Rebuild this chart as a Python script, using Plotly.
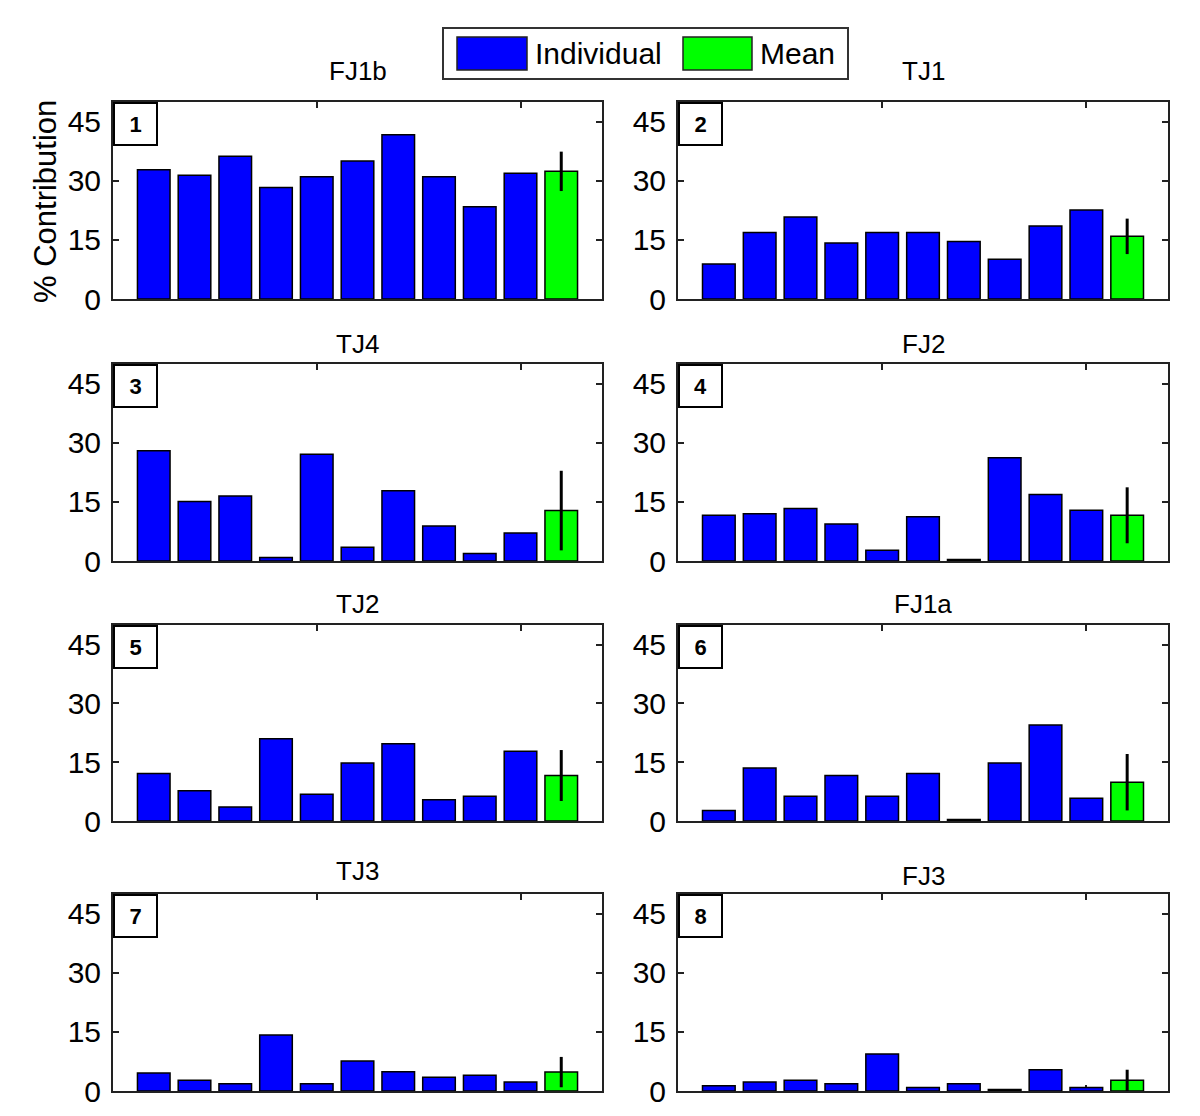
import plotly.graph_objects as go

# ---------------- data ----------------
panel_titles = ["FJ1b", "TJ1", "TJ4", "FJ2", "TJ2", "FJ1a", "TJ3", "FJ3"]
panel_numbers = ["1", "2", "3", "4", "5", "6", "7", "8"]

fj1b_ind = [32.8, 31.4, 36.2, 28.3, 31.0, 35.0, 41.7, 31.0, 23.4, 31.9]
tj1_ind = [8.9, 16.9, 20.8, 14.2, 16.9, 16.9, 14.6, 10.1, 18.5, 22.6]
tj4_ind = [28.0, 15.1, 16.5, 0.9, 27.1, 3.5, 17.8, 8.9, 1.9, 7.1]
fj2_ind = [11.6, 12.0, 13.3, 9.4, 2.7, 11.2, 0.4, 26.2, 16.9, 12.9]
tj2_ind = [12.1, 7.7, 3.6, 21.0, 6.8, 14.8, 19.7, 5.4, 6.3, 17.8]
fj1a_ind = [2.7, 13.5, 6.3, 11.6, 6.3, 12.1, 0.4, 14.8, 24.5, 5.8]
tj3_ind = [4.55, 2.7, 1.85, 14.2, 1.85, 7.6, 4.9, 3.5, 4.0, 2.3]
fj3_ind = [1.35, 2.3, 2.7, 1.85, 9.4, 0.9, 1.85, 0.4, 5.4, 0.9]

mean_values = [32.4, 15.9, 12.8, 11.6, 11.6, 9.9, 4.8, 2.7]
mean_errors = [5.0, 4.5, 10.1, 7.1, 6.5, 7.2, 3.85, 2.7]

subject_ids = [1, 2, 3, 4, 5, 6, 7, 8, 9, 10]
mean_id = [11]

y_ticks = [0, 15, 30, 45]
legend_labels = ["Individual", "Mean"]
y_title = "% Contribution"

individual = [fj1b_ind, tj1_ind, tj4_ind, fj2_ind, tj2_ind, fj1a_ind, tj3_ind, fj3_ind]

# ---------------- layout geometry ----------------
W = 1200
H_REF = 1116          # layout positions below are in reference pixels
H = 1133              # page height used for the figure (viewport compensation)
SY = H / H_REF
col_px = [(113, 602), (678, 1168)]
row_px = [(102, 299), (364, 561), (625, 821), (894, 1091)]
title_shift = [14, 14, 3, 3, 4, 4, 6, 1]

BLUE = "#0000FF"
GREEN = "#00FF00"
FONT = "Liberation Sans, Arial, sans-serif"

fig = go.Figure()
layout = dict(
    width=W, height=H, autosize=False,
    margin=dict(l=0, r=0, t=0, b=0),
    paper_bgcolor="white", plot_bgcolor="white",
    showlegend=False,
    bargap=0.2,
    font=dict(family=FONT, color="black"),
)
annotations = []
shapes = []


def px(xp):
    return xp / W


def py(yp):
    return 1 - yp / H_REF


for i in range(8):
    r, c = divmod(i, 2)
    n = i + 1
    xa = "x" if n == 1 else f"x{n}"
    ya = "y" if n == 1 else f"y{n}"
    xkey = "xaxis" if n == 1 else f"xaxis{n}"
    ykey = "yaxis" if n == 1 else f"yaxis{n}"

    fig.add_trace(go.Bar(
        x=subject_ids, y=individual[i], xaxis=xa, yaxis=ya,
        width=0.8, marker=dict(color=BLUE, line=dict(color="black", width=1.5)),
        name=legend_labels[0],
    ))
    fig.add_trace(go.Bar(
        x=mean_id, y=[mean_values[i]], xaxis=xa, yaxis=ya,
        width=0.8, marker=dict(color=GREEN, line=dict(color="black", width=1.5)),
        error_y=dict(type="data", array=[mean_errors[i]], color="black",
                     thickness=3, width=0),
        name=legend_labels[1],
    ))

    x0, x1 = col_px[c]
    y0, y1 = row_px[r]
    layout[xkey] = dict(
        domain=[px(x0), px(x1)], range=[0, 12], anchor=ya,
        tickvals=[0, 5, 10], showticklabels=False, ticks="inside", ticklen=6,
        tickcolor="#222", tickwidth=1.5,
        showline=True, linecolor="#222", linewidth=2, mirror="ticks",
        showgrid=False, zeroline=False, layer="below traces", fixedrange=True,
    )
    layout[ykey] = dict(
        domain=[py(y1), py(y0)], range=[0, 50], anchor=xa,
        tickvals=y_ticks, ticks="inside", ticklen=6, tickcolor="#222", tickwidth=1.5,
        showline=True, linecolor="#222", linewidth=2, mirror="ticks",
        showgrid=False, zeroline=False, layer="below traces",
        tickfont=dict(size=30, family=FONT, color="black"), ticklabelstandoff=4,
        fixedrange=True,
    )

    # subplot title
    annotations.append(dict(
        text=panel_titles[i], xref=f"{xa} domain", yref=f"{ya} domain",
        x=0.5, y=1, xanchor="center", yanchor="bottom", yshift=title_shift[i] * SY,
        showarrow=False, font=dict(size=26, family=FONT, color="black"),
    ))
    # panel number box
    annotations.append(dict(
        text=f"<b>{panel_numbers[i]}</b>", xref=f"{xa} domain", yref=f"{ya} domain",
        x=0, y=1, xanchor="left", yanchor="top", showarrow=False,
        width=41, height=40, borderpad=0, bgcolor="white",
        bordercolor="black", borderwidth=2,
        font=dict(size=22, family=FONT, color="black"),
    ))

# y-axis title (first panel only)
annotations.append(dict(
    text=y_title, xref="paper", yref="paper", x=px(45), y=py(202),
    xanchor="center", yanchor="middle", textangle=-90, showarrow=False,
    font=dict(size=31, family=FONT, color="black"),
))

# ---------------- manual legend ----------------
shapes.append(dict(type="rect", xref="paper", yref="paper",
                   x0=px(443), x1=px(848), y0=py(79), y1=py(28),
                   line=dict(color="#333", width=2), fillcolor="white", layer="above"))
shapes.append(dict(type="rect", xref="paper", yref="paper",
                   x0=px(457), x1=px(527), y0=py(70), y1=py(37),
                   line=dict(color="#222", width=1.5), fillcolor=BLUE, layer="above"))
shapes.append(dict(type="rect", xref="paper", yref="paper",
                   x0=px(683), x1=px(752), y0=py(70), y1=py(37),
                   line=dict(color="#222", width=1.5), fillcolor=GREEN, layer="above"))
annotations.append(dict(text=legend_labels[0], xref="paper", yref="paper",
                        x=px(533), y=py(53), xanchor="left", yanchor="middle",
                        showarrow=False, font=dict(size=30, family=FONT, color="black")))
annotations.append(dict(text=legend_labels[1], xref="paper", yref="paper",
                        x=px(758), y=py(53), xanchor="left", yanchor="middle",
                        showarrow=False, font=dict(size=30, family=FONT, color="black")))

layout["annotations"] = annotations
layout["shapes"] = shapes
fig.update_layout(**layout)

fig.write_html("out.html", config={"displayModeBar": False},
               post_script="document.body.style.margin='0';document.body.style.overflow='hidden';")
